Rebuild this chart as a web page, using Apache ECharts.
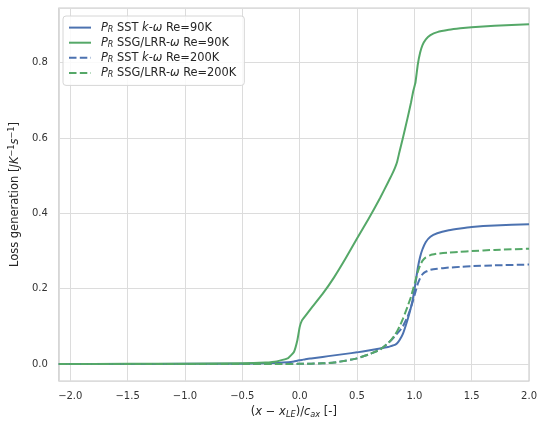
<!DOCTYPE html>
<html>
<head>
<meta charset="utf-8">
<script src="https://cdn.jsdelivr.net/npm/echarts@6/dist/echarts.min.js"></script>
<style>
  html, body { margin: 0; padding: 0; background: #ffffff; }
  #chart { width: 540px; height: 426px; }
</style>
</head>
<body>
<div id="chart"></div>
<script>
// Streamwise position (x - x_LE) / c_ax
const xPos = [-2.1, -1.5, -1.0, -0.5, -0.3, -0.2, -0.1, -0.05, -0.02, 0.0, 0.02, 0.05, 0.1, 0.2, 0.3, 0.4, 0.5,
  0.6, 0.7, 0.77, 0.8, 0.83, 0.85, 0.87, 0.9, 0.94, 0.97, 0.99, 1.01, 1.03, 1.05, 1.07, 1.1, 1.14, 1.2,
  1.3, 1.4, 1.5, 1.7, 2.0];

// Cumulative loss generation P_R [J K^-1 s^-1]
const sstRe90 = [0, 0, 0.0005, 0.001, 0.002, 0.003, 0.005, 0.007, 0.009, 0.010, 0.011, 0.013, 0.015, 0.019, 0.023,
  0.027, 0.031, 0.036, 0.041, 0.045, 0.048, 0.051, 0.055, 0.063, 0.080, 0.117, 0.150, 0.178, 0.215, 0.255,
  0.284, 0.304, 0.324, 0.338, 0.347, 0.355, 0.360, 0.364, 0.368, 0.371];
const ssgRe90 = [0, 0.0005, 0.001, 0.002, 0.004, 0.007, 0.016, 0.032, 0.063, 0.098, 0.116, 0.128, 0.148, 0.186,
  0.230, 0.280, 0.333, 0.385, 0.440, 0.482, 0.500, 0.520, 0.537, 0.563, 0.600, 0.652, 0.693, 0.724, 0.748,
  0.795, 0.826, 0.846, 0.862, 0.873, 0.881, 0.887, 0.891, 0.894, 0.898, 0.902];
const sstRe200 = [0, 0, 0, 0, 0, 0, 0, 0, 0.0005, 0.0005, 0.001, 0.001, 0.001, 0.002, 0.004, 0.009, 0.015, 0.025,
  0.038, 0.055, 0.064, 0.074, 0.081, 0.088, 0.100, 0.125, 0.150, 0.170, 0.192, 0.213, 0.228, 0.238, 0.245,
  0.250, 0.253, 0.256, 0.258, 0.260, 0.262, 0.264];
const ssgRe200 = [0, 0, 0, 0, 0, 0, 0, 0, 0.0005, 0.0005, 0.001, 0.001, 0.001, 0.002, 0.004, 0.009, 0.015, 0.025,
  0.038, 0.055, 0.065, 0.077, 0.087, 0.099, 0.120, 0.152, 0.178, 0.200, 0.222, 0.245, 0.262, 0.274, 0.283,
  0.289, 0.293, 0.296, 0.298, 0.300, 0.303, 0.306];

const seriesNames = ['sst90', 'ssg90', 'sst200', 'ssg200'];
const legendLabels = {
  sst90: '{it|P}{sub|R} SST {it|k}-{it|ω} Re=90K',
  ssg90: '{it|P}{sub|R} SSG/LRR-{it|ω} Re=90K',
  sst200: '{it|P}{sub|R} SST {it|k}-{it|ω} Re=200K',
  ssg200: '{it|P}{sub|R} SSG/LRR-{it|ω} Re=200K'
};

const BLUE = '#4c72b0';
const GREEN = '#55a868';
const FONT = 'DejaVu Sans';
const TEXT = '#262626';

function pairs(ys) {
  return xPos.map((x, i) => [x, ys[i]]);
}

function lineSeries(name, ys, color, dashed) {
  return {
    name: name,
    type: 'line',
    data: pairs(ys),
    showSymbol: false,
    symbol: 'none',
    smooth: 0.12,
    animation: false,
    lineStyle: { color: color, width: 2, type: dashed ? [7.5, 3.3] : 'solid', cap: 'butt', join: 'round' },
    itemStyle: { color: color }
  };
}

const fmtMinus = v => (v < 0 ? '\u2212' : '') + Math.abs(v).toFixed(1);

const chart = echarts.init(document.getElementById('chart'), null, { renderer: 'canvas' });
chart.setOption({
  backgroundColor: '#ffffff',
  animation: false,
  textStyle: { fontFamily: FONT },
  grid: {
    left: 58, right: 9, top: 8, bottom: 45,
    show: true, borderColor: '#cccccc', borderWidth: 1.2, backgroundColor: 'transparent'
  },
  legend: {
    orient: 'vertical',
    left: 63, top: 16,
    padding: [6, 8, 6, 5],
    itemGap: 3,
    itemWidth: 22,
    itemHeight: 14,
    itemStyle: { opacity: 0 },
    backgroundColor: 'rgba(255,255,255,0.85)',
    borderColor: '#d6d6d6',
    borderWidth: 1,
    borderRadius: 3,
    data: seriesNames,
    formatter: n => legendLabels[n],
    textStyle: {
      fontFamily: FONT, fontSize: 11.4, color: TEXT, padding: [0, 0, 0, 5],
      rich: {
        it: { fontFamily: FONT, fontStyle: 'italic', fontSize: 11.4, color: TEXT },
        sub: { fontFamily: FONT, fontStyle: 'italic', fontSize: 8, color: TEXT, padding: [5, 0, 0, 0] }
      }
    }
  },
  xAxis: {
    type: 'value',
    min: -2.1, max: 2.0,
    minInterval: 0.5, maxInterval: 0.5,
    splitNumber: 8,
    axisLine: { show: false },
    axisTick: { show: false },
    splitLine: { show: true, lineStyle: { color: '#dcdcdc', width: 1 } },
    axisLabel: {
      showMinLabel: false,
      margin: 10,
      fontFamily: FONT, fontSize: 10, color: '#333333',
      formatter: v => (Math.abs(v * 2 - Math.round(v * 2)) < 1e-6 ? fmtMinus(v) : '')
    },
    name: '({it|x} − {it|x}{sub|LE})/{it|c}{sub|ax} [-]',
    nameLocation: 'middle',
    nameGap: 24,
    nameTextStyle: {
      fontFamily: FONT, fontSize: 11.5, color: TEXT,
      rich: {
        it: { fontFamily: FONT, fontStyle: 'italic', fontSize: 11.5, color: TEXT },
        sub: { fontFamily: FONT, fontStyle: 'italic', fontSize: 8.2, color: TEXT, padding: [6, 0, 0, 0] }
      }
    }
  },
  yAxis: {
    type: 'value',
    min: -0.045, max: 0.945,
    minInterval: 0.2, maxInterval: 0.2,
    splitNumber: 5,
    axisLine: { show: false },
    axisTick: { show: false },
    splitLine: { show: true, lineStyle: { color: '#dcdcdc', width: 1 } },
    axisLabel: {
      showMinLabel: false, showMaxLabel: false,
      margin: 11,
      fontFamily: FONT, fontSize: 10, color: '#333333',
      formatter: v => (Math.abs(v * 5 - Math.round(v * 5)) < 1e-6 ? fmtMinus(v) : '')
    },
    name: 'Loss generation [{it|J}{it|K}{sup|−1}{it|s}{sup|−1}]',
    nameLocation: 'middle',
    nameGap: 36,
    nameTextStyle: {
      fontFamily: FONT, fontSize: 11.5, color: TEXT,
      rich: {
        it: { fontFamily: FONT, fontStyle: 'italic', fontSize: 11.5, color: TEXT },
        sup: { fontFamily: FONT, fontSize: 8.2, color: TEXT, padding: [0, 0, 6, 0] }
      }
    }
  },
  series: [
    lineSeries('sst90', sstRe90, BLUE, false),
    lineSeries('ssg90', ssgRe90, GREEN, false),
    lineSeries('sst200', sstRe200, BLUE, true),
    lineSeries('ssg200', ssgRe200, GREEN, true)
  ]
});
</script>
</body>
</html>
